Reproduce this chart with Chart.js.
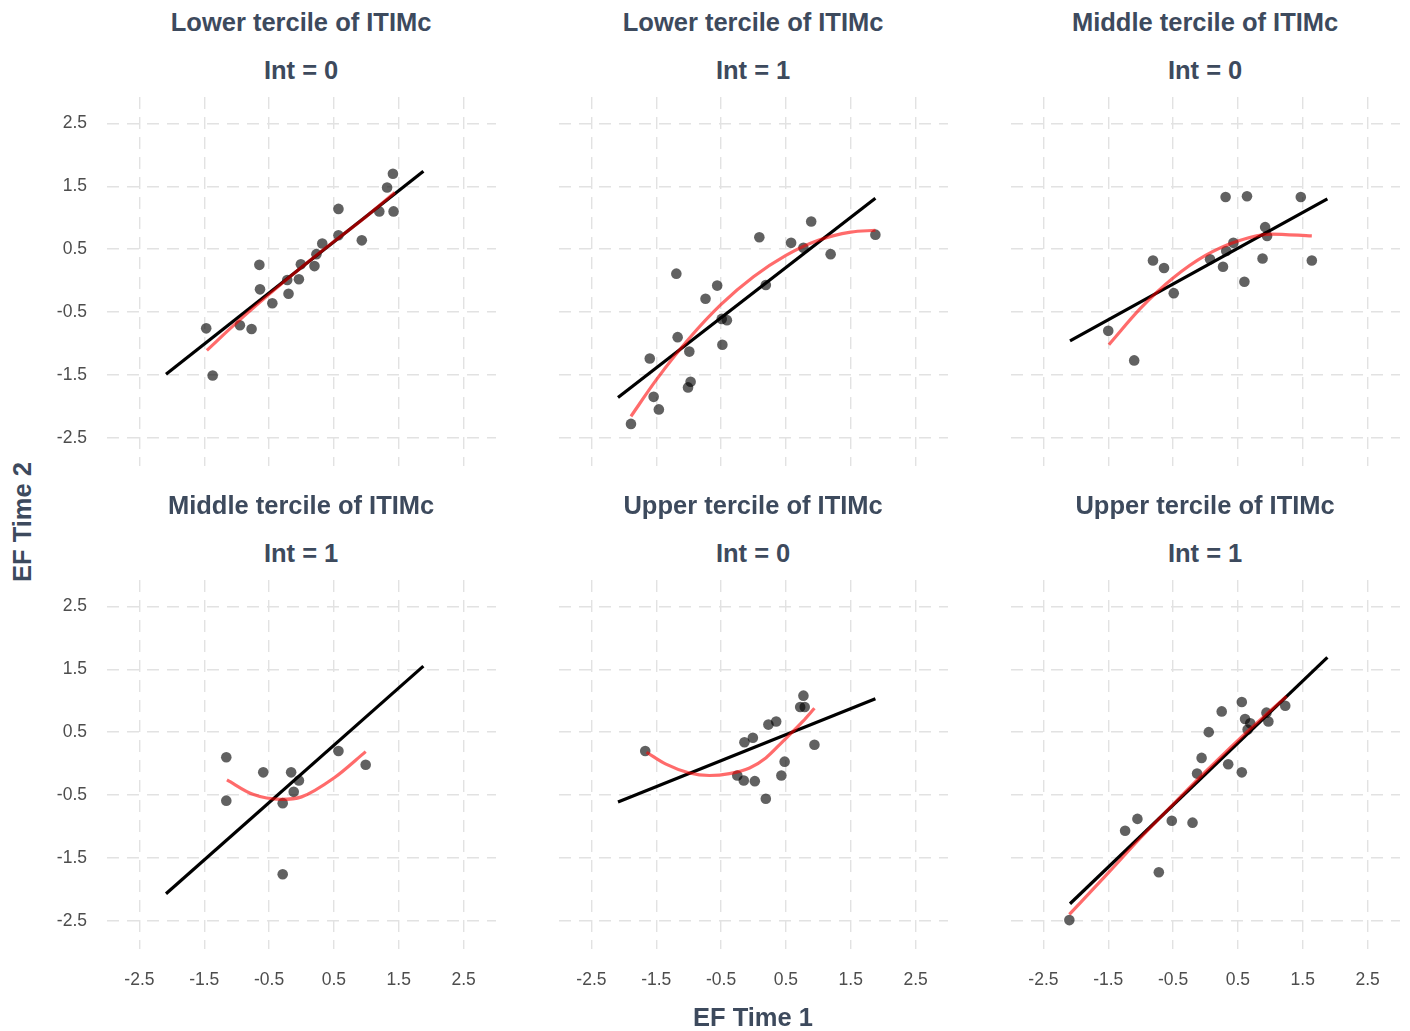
<!DOCTYPE html>
<html lang="en">
<head>
    <meta charset="UTF-8">
    <title>EF Time 1 vs EF Time 2 by ITIMc tercile</title>
    <script src="https://cdn.jsdelivr.net/npm/chart.js"></script>
    <style>
        body { margin: 0; background: #fff; font-family: "Liberation Sans", Arial, sans-serif; }
        #page { position: relative; width: 1410px; height: 1031px; overflow: hidden; }
        canvas { position: absolute; }
        .lbl { position: absolute; transform: translate(-50%, -50%); white-space: nowrap;
               font-weight: bold; font-size: 25.5px; color: #3d4a5d; }
        .rot { transform: translate(-50%, -50%) rotate(-90deg); }
    </style>
</head>
<body>
<div id="page"></div>

<script>
    // tick labels used on both axes
    const tickVals = [-2.5, -1.5, -0.5, 0.5, 1.5, 2.5];

    const panelTerciles = ['Lower tercile of ITIMc', 'Lower tercile of ITIMc', 'Middle tercile of ITIMc',
                           'Middle tercile of ITIMc', 'Upper tercile of ITIMc', 'Upper tercile of ITIMc'];
    const panelInt = ['Int = 0', 'Int = 1', 'Int = 0', 'Int = 1', 'Int = 0', 'Int = 1'];

    // observed points (EF Time 1, EF Time 2)
    const lowInt0X = [-1.47, -1.37, -0.95, -0.77, -0.65, -0.64, -0.45, -0.22, -0.20, -0.04, -0.01, 0.20, 0.23, 0.32, 0.57, 0.57, 0.93, 1.20, 1.32, 1.41, 1.42];
    const lowInt0Y = [-0.76, -1.51, -0.71, -0.77, 0.25, -0.14, -0.36, 0.01, -0.21, 0.02, 0.26, 0.23, 0.42, 0.59, 1.14, 0.72, 0.64, 1.10, 1.48, 1.70, 1.10];

    const lowInt1X = [-1.89, -1.54, -1.46, -1.60, -1.19, -1.17, -0.99, -1.01, -0.97, -0.74, -0.56, -0.49, -0.41, -0.48, 0.09, 0.19, 0.58, 0.77, 0.89, 1.19, 1.88];
    const lowInt1Y = [-2.28, -1.85, -2.05, -1.24, 0.11, -0.90, -1.13, -1.70, -1.61, -0.29, -0.08, -0.61, -0.63, -1.02, 0.69, -0.07, 0.60, 0.52, 0.94, 0.42, 0.73];

    const midInt0X = [-1.50, -1.10, -0.81, -0.64, -0.49, 0.07, 0.27, 0.31, 0.32, 0.43, 0.60, 0.64, 0.88, 0.92, 0.95, 1.47, 1.64];
    const midInt0Y = [-0.80, -1.27, 0.32, 0.20, -0.20, 0.34, 0.22, 1.33, 0.47, 0.60, -0.02, 1.34, 0.35, 0.85, 0.71, 1.33, 0.32];

    const midInt1X = [-1.16, -1.16, -0.59, -0.29, -0.16, -0.04, -0.12, -0.29, 0.57, 0.99];
    const midInt1Y = [0.10, -0.59, -0.14, -0.63, -0.14, -0.27, -0.45, -1.76, 0.20, -0.02];

    const upInt0X = [-1.67, -0.14, -0.01, 0.23, 0.35, -0.25, -0.15, 0.02, 0.19, 0.43, 0.48, 0.77, 0.72, 0.79, 0.94];
    const upInt0Y = [0.20, 0.34, 0.41, 0.62, 0.67, -0.19, -0.27, -0.28, -0.56, -0.19, 0.03, 1.08, 0.90, 0.90, 0.30];

    const upInt1X = [-2.10, -1.24, -1.05, -0.72, -0.52, -0.20, -0.13, -0.06, 0.05, 0.25, 0.35, 0.56, 0.56, 0.61, 0.69, 0.65, 0.94, 0.97, 1.23];
    const upInt1Y = [-2.49, -1.07, -0.88, -1.73, -0.91, -0.94, -0.16, 0.09, 0.50, 0.83, -0.01, 0.98, -0.14, 0.71, 0.64, 0.54, 0.81, 0.67, 0.92];

    // straight (black) fit lines, drawn over the full EF Time 1 range
    const fitX = [-2.09, 1.88];
    const lowInt0Fit = [-1.49, 1.74];
    const lowInt1Fit = [-1.86, 1.31];
    const midInt0Fit = [-0.96, 1.30];
    const midInt1Fit = [-2.07, 1.55];
    const upInt0Fit = [-0.61, 1.03];
    const upInt1Fit = [-2.23, 1.69];

    // curved (red) fits
    const lowInt0CurveX = [-1.46, -1.0, -0.5, 0.0, 0.5, 1.0, 1.44];
    const lowInt0CurveY = [-1.11, -0.67, -0.22, 0.21, 0.62, 1.02, 1.40];
    const lowInt1CurveX = [-1.89, -1.5, -1.0, -0.5, 0.0, 0.5, 1.0, 1.5, 1.88];
    const lowInt1CurveY = [-2.16, -1.58, -0.93, -0.38, 0.06, 0.40, 0.64, 0.77, 0.80];
    const midInt0CurveX = [-1.49, -1.0, -0.5, 0.0, 0.5, 1.0, 1.64];
    const midInt0CurveY = [-1.02, -0.44, 0.04, 0.40, 0.63, 0.74, 0.71];
    const midInt1CurveX = [-1.15, -0.75, -0.32, 0.0, 0.5, 0.99];
    const midInt1CurveY = [-0.26, -0.49, -0.57, -0.53, -0.23, 0.19];
    const upInt0CurveX = [-1.65, -1.35, -0.99, -0.68, -0.37, -0.06, 0.19, 0.45, 0.76, 0.94];
    const upInt0CurveY = [0.18, -0.01, -0.15, -0.19, -0.16, -0.07, 0.09, 0.35, 0.67, 0.88];
    const upInt1CurveX = [-2.10, -1.5, -1.0, -0.5, 0.0, 0.5, 1.0, 1.25];
    const upInt1CurveY = [-2.40, -1.74, -1.18, -0.65, -0.13, 0.37, 0.84, 1.07];

    const panels = [
        { x: lowInt0X, y: lowInt0Y, fit: lowInt0Fit, cx: lowInt0CurveX, cy: lowInt0CurveY },
        { x: lowInt1X, y: lowInt1Y, fit: lowInt1Fit, cx: lowInt1CurveX, cy: lowInt1CurveY },
        { x: midInt0X, y: midInt0Y, fit: midInt0Fit, cx: midInt0CurveX, cy: midInt0CurveY },
        { x: midInt1X, y: midInt1Y, fit: midInt1Fit, cx: midInt1CurveX, cy: midInt1CurveY },
        { x: upInt0X, y: upInt0Y, fit: upInt0Fit, cx: upInt0CurveX, cy: upInt0CurveY },
        { x: upInt1X, y: upInt1Y, fit: upInt1Fit, cx: upInt1CurveX, cy: upInt1CurveY }
    ];

    // layout
    const colLeft = [106.6, 558.6, 1010.6];
    const rowTop = [96.6, 579.6];
    const PW = 389, PH = 369;      // plot area
    const YW = 60, XH = 60;        // room kept for tick labels
    const page = document.getElementById('page');
    const zip = (xs, ys) => xs.map((v, i) => ({ x: v, y: ys[i] }));

    function addLabel(text, cx, cy, extraClass) {
        const d = document.createElement('div');
        d.className = 'lbl' + (extraClass ? ' ' + extraClass : '');
        d.textContent = text;
        d.style.left = cx + 'px';
        d.style.top = cy + 'px';
        page.appendChild(d);
    }

    // fixed axis size, and no extra room for the end labels
    function fixSize(s, w, h) {
        if (w !== null) s.width = w;
        if (h !== null) s.height = h;
        s.paddingTop = 0;
        s.paddingBottom = 0;
        s.paddingLeft = 0;
        s.paddingRight = 0;
    }

    panels.forEach((p, i) => {
        const col = i % 3, row = Math.floor(i / 3);
        const left = colLeft[col], top = rowTop[row];

        const cv = document.createElement('canvas');
        cv.width = YW + PW;
        cv.height = PH + XH;
        cv.style.left = (left - YW) + 'px';
        cv.style.top = top + 'px';
        page.appendChild(cv);

        addLabel(panelTerciles[i], left + PW / 2, top - 75);
        addLabel(panelInt[i], left + PW / 2, top - 27);

        const gridOpts = { color: '#e2e2e2', lineWidth: 1.4, drawTicks: false };
        const borderOpts = { display: false, dash: [12, 8] };
        const tickFont = { family: '"Liberation Sans", Arial, sans-serif', size: 17.5 };

        new Chart(cv.getContext('2d'), {
            type: 'scatter',
            data: {
                datasets: [
                    {
                        data: zip(p.cx, p.cy),
                        showLine: true,
                        borderColor: 'rgba(255, 0, 0, 0.58)',
                        borderWidth: 3.2,
                        pointRadius: 0,
                        cubicInterpolationMode: 'monotone',
                        order: 0
                    },
                    {
                        data: zip(fitX, p.fit),
                        showLine: true,
                        borderColor: '#000',
                        borderWidth: 3.2,
                        pointRadius: 0,
                        order: 1
                    },
                    {
                        data: zip(p.x, p.y),
                        backgroundColor: 'rgba(0, 0, 0, 0.62)',
                        borderWidth: 0,
                        pointRadius: 5.3,
                        order: 2
                    }
                ]
            },
            options: {
                responsive: false,
                animation: false,
                devicePixelRatio: 1,
                layout: { padding: 0, autoPadding: false },
                plugins: { legend: { display: false }, tooltip: { enabled: false } },
                scales: {
                    x: {
                        type: 'linear',
                        min: -3,
                        max: 3,
                        afterBuildTicks: s => { s.ticks = tickVals.map(v => ({ value: v })); },
                        afterFit: s => fixSize(s, null, XH),
                        grid: gridOpts,
                        border: borderOpts,
                        ticks: {
                            display: row === 1,
                            maxRotation: 0,
                            padding: 21,
                            color: '#4d4d4d',
                            font: tickFont,
                            callback: v => v.toFixed(1)
                        }
                    },
                    y: {
                        type: 'linear',
                        min: -2.95,
                        max: 2.92,
                        afterBuildTicks: s => { s.ticks = tickVals.map(v => ({ value: v })); },
                        afterFit: s => fixSize(s, YW, null),
                        grid: gridOpts,
                        border: borderOpts,
                        ticks: {
                            display: col === 0,
                            padding: 20,
                            color: '#4d4d4d',
                            font: tickFont,
                            callback: v => v.toFixed(1)
                        }
                    }
                }
            }
        });
    });

    addLabel('EF Time 1', 753, 1017);
    addLabel('EF Time 2', 22, 522, 'rot');
</script>
</body>
</html>
